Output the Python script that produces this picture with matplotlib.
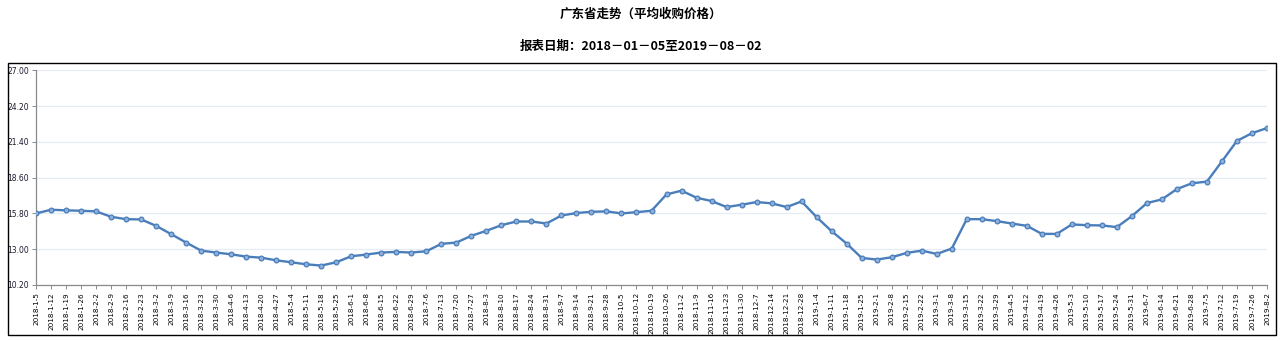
import matplotlib
matplotlib.use("Agg")
import matplotlib.pyplot as plt
from matplotlib.patches import Rectangle
from matplotlib.ticker import FixedLocator, FormatStrFormatter

plt.rcParams['font.family'] = ['Noto Sans CJK SC', 'DejaVu Sans']

title = "广东省走势（平均收购价格）"
subtitle = "报表日期：2018－01－05至2019－08－02"

dates = [
    "2018-1-5", "2018-1-12", "2018-1-19", "2018-1-26", "2018-2-2", "2018-2-9",
    "2018-2-16", "2018-2-23", "2018-3-2", "2018-3-9", "2018-3-16", "2018-3-23",
    "2018-3-30", "2018-4-6", "2018-4-13", "2018-4-20", "2018-4-27", "2018-5-4",
    "2018-5-11", "2018-5-18", "2018-5-25", "2018-6-1", "2018-6-8", "2018-6-15",
    "2018-6-22", "2018-6-29", "2018-7-6", "2018-7-13", "2018-7-20", "2018-7-27",
    "2018-8-3", "2018-8-10", "2018-8-17", "2018-8-24", "2018-8-31", "2018-9-7",
    "2018-9-14", "2018-9-21", "2018-9-28", "2018-10-5", "2018-10-12", "2018-10-19",
    "2018-10-26", "2018-11-2", "2018-11-9", "2018-11-16", "2018-11-23", "2018-11-30",
    "2018-12-7", "2018-12-14", "2018-12-21", "2018-12-28", "2019-1-4", "2019-1-11",
    "2019-1-18", "2019-1-25", "2019-2-1", "2019-2-8", "2019-2-15", "2019-2-22",
    "2019-3-1", "2019-3-8", "2019-3-15", "2019-3-22", "2019-3-29", "2019-4-5",
    "2019-4-12", "2019-4-19", "2019-4-26", "2019-5-3", "2019-5-10", "2019-5-17",
    "2019-5-24", "2019-5-31", "2019-6-7", "2019-6-14", "2019-6-21", "2019-6-28",
    "2019-7-5", "2019-7-12", "2019-7-19", "2019-7-26", "2019-8-2",
]

prices = [
    15.80, 16.09, 16.04, 16.01, 15.96, 15.54, 15.35, 15.33, 14.83, 14.18,
    13.52, 12.89, 12.74, 12.60, 12.42, 12.34, 12.13, 11.98, 11.82, 11.72,
    11.98, 12.45, 12.58, 12.74, 12.79, 12.74, 12.84, 13.42, 13.52, 14.05,
    14.44, 14.88, 15.17, 15.17, 15.01, 15.64, 15.83, 15.93, 15.96, 15.80,
    15.90, 16.01, 17.29, 17.58, 17.03, 16.77, 16.30, 16.48, 16.69, 16.59,
    16.30, 16.74, 15.51, 14.41, 13.44, 12.32, 12.19, 12.37, 12.71, 12.89,
    12.63, 13.05, 15.35, 15.35, 15.20, 15.01, 14.83, 14.20, 14.20, 14.94,
    14.88, 14.86, 14.73, 15.59, 16.61, 16.90, 17.71, 18.16, 18.29, 19.88,
    21.48, 22.08, 22.48,
]

y_ticks = [10.20, 13.00, 15.80, 18.60, 21.40, 24.20, 27.00]

W, H = 1282, 341
fig = plt.figure(figsize=(W / 100, H / 100), dpi=100)
fig.patch.set_facecolor("white")

# outer frame around the chart area
fig.add_artist(Rectangle((8 / W, (H - 335) / H), 1268 / W, 272 / H,
                         transform=fig.transFigure, fill=False,
                         edgecolor="black", linewidth=1.0))

fig.text(0.5, 1 - 14 / H, title, ha="center", va="center",
         fontsize=9, fontweight="bold")
fig.text(0.5, 1 - 46 / H, subtitle, ha="center", va="center",
         fontsize=9, fontweight="bold")

left, right, top, bottom = 36, 1267, 70.3, 285
ax = fig.add_axes([left / W, (H - bottom) / H, (right - left) / W, (bottom - top) / H])

x = list(range(len(dates)))
ax.plot(x, prices, color="#4a7ebb", linewidth=1.7,
        marker="o", markersize=3.4, markerfacecolor="#8fb0dc",
        markeredgecolor="#4a7ebb", markeredgewidth=0.9, zorder=3)

ax.set_xlim(0, len(dates) - 1)
ax.set_ylim(y_ticks[0], y_ticks[-1])
ax.yaxis.set_major_locator(FixedLocator(y_ticks))
ax.yaxis.set_major_formatter(FormatStrFormatter("%.2f"))
ax.set_xticks(x)
ax.set_xticklabels(dates, rotation=90, fontsize=5.2, family="DejaVu Sans")
for lbl in ax.get_yticklabels():
    lbl.set_fontsize(5.5)
    lbl.set_family("DejaVu Sans")
    lbl.set_color("#1a1a2e")

ax.grid(axis="y", color="#e6ecf5", linewidth=0.9)
ax.set_axisbelow(True)
for s in ("top", "right"):
    ax.spines[s].set_visible(False)
for s in ("left", "bottom"):
    ax.spines[s].set_color("#8a8a8a")
    ax.spines[s].set_linewidth(0.9)
ax.tick_params(axis="both", length=3, width=0.7, color="#8a8a8a", pad=2)

fig.savefig("out.png", dpi=100, facecolor="white")
